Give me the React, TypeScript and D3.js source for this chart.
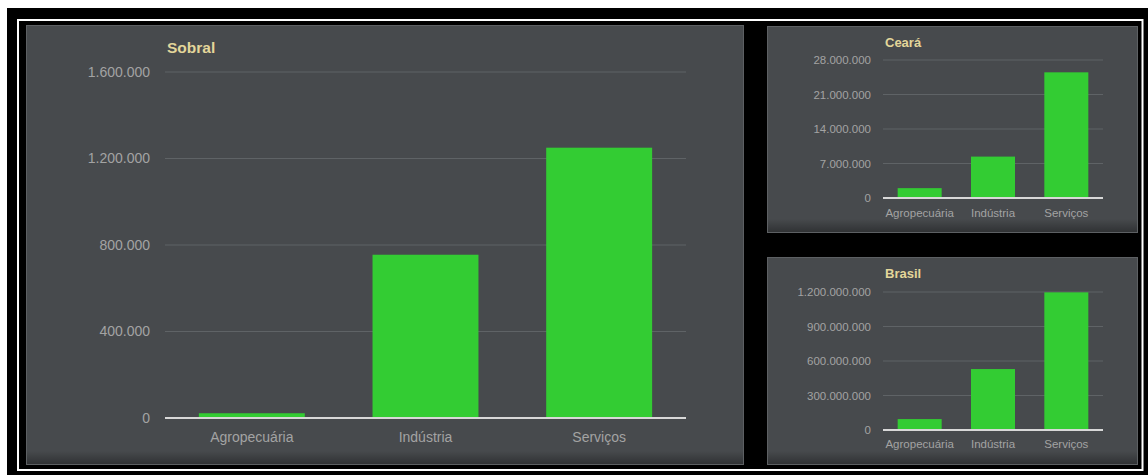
import React from "react";
import * as d3 from "d3";

const categories = ["Agropecuária", "Indústria", "Serviços"];
const sobralValues = [22000, 755000, 1250000];
const cearaValues = [2000000, 8400000, 25500000];
const brasilValues = [95000000, 530000000, 1197000000];
const sobralTicks = [0, 400000, 800000, 1200000, 1600000];
const cearaTicks = [0, 7000000, 14000000, 21000000, 28000000];
const brasilTicks = [0, 300000000, 600000000, 900000000, 1200000000];

const ptLocale = d3.formatLocale({ decimal: ",", thousands: ".", grouping: [3], currency: ["R$", ""] });
const fmt = ptLocale.format(",d");

const FONT = "'Liberation Sans', Arial, Helvetica, sans-serif";
const PANEL = "#474a4d";
const GRID = "#5f6366";
const LABEL = "#a3a3a3";
const TITLE = "#e3d69a";
const GREEN = "#33cc33";

type ChartProps = {
  id: string;
  title: string;
  values: number[];
  ticks: number[];
  panel: { x: number; y: number; w: number; h: number };
  plot: { x0: number; x1: number; y0: number; y1: number };
  titleY: number;
  titleSize: number;
  ySize: number;
  xSize: number;
  xLabelY: number;
  labelGap: number;
  padding: number;
};

function Chart(p: ChartProps) {
  const x = d3.scaleBand<string>().domain(categories).range([p.plot.x0, p.plot.x1]).paddingInner(p.padding).paddingOuter(p.padding / 2);
  const y = d3.scaleLinear().domain([0, p.ticks[p.ticks.length - 1]]).range([p.plot.y1, p.plot.y0]);
  const { x: px, y: py, w, h } = p.panel;
  return (
    <g>
      <rect x={px} y={py} width={w} height={h} fill={PANEL} />
      <rect x={px} y={py + h - 14} width={w} height={14} fill={`url(#shade-${p.id})`} />
      <rect x={px + 0.5} y={py + 0.5} width={w - 1} height={h - 1} fill="none" stroke="#5d6063" strokeWidth={1} />
      <defs>
        <linearGradient id={`shade-${p.id}`} x1="0" y1="0" x2="0" y2="1">
          <stop offset="0" stopColor="#000" stopOpacity={0} />
          <stop offset="1" stopColor="#000" stopOpacity={0.35} />
        </linearGradient>
      </defs>
      <text x={p.plot.x0 + 2} y={p.titleY} fill={TITLE} fontFamily={FONT} fontWeight="bold" fontSize={p.titleSize}>
        {p.title}
      </text>
      {p.ticks.map((t) => (
        <g key={t}>
          {t !== 0 && <line x1={p.plot.x0} x2={p.plot.x1} y1={y(t)} y2={y(t)} stroke={GRID} strokeWidth={1} />}
          <text x={p.plot.x0 - p.labelGap} y={y(t)} dy="0.35em" textAnchor="end" fill={LABEL} fontFamily={FONT} fontSize={p.ySize}>
            {fmt(t)}
          </text>
        </g>
      ))}
      {categories.map((c, i) => (
        <rect key={c} x={x(c)} y={y(p.values[i])} width={x.bandwidth()} height={y(0) - y(p.values[i])} fill={GREEN} />
      ))}
      <line x1={p.plot.x0} x2={p.plot.x1} y1={y(0)} y2={y(0)} stroke="#d8d8d8" strokeWidth={2} />
      {categories.map((c) => (
        <text key={c} x={(x(c) as number) + x.bandwidth() / 2} y={p.xLabelY} textAnchor="middle" fill={LABEL} fontFamily={FONT} fontSize={p.xSize}>
          {c}
        </text>
      ))}
    </g>
  );
}

export default function App() {
  return (
    <svg width={1148} height={475} style={{ position: "absolute", left: 0, top: 0 }}>
      <rect x={0} y={0} width={1148} height={475} fill="#fff" />
      <rect x={7} y={8} width={1141} height={467} fill="#000" />
      <rect x={18} y={20} width={1124.5} height={450} fill="none" stroke="#fff" strokeWidth={2} />
      <Chart
        id="sobral"
        title="Sobral"
        values={sobralValues}
        ticks={sobralTicks}
        panel={{ x: 26, y: 25, w: 718, h: 440 }}
        plot={{ x0: 165, x1: 686, y0: 72, y1: 418 }}
        titleY={53}
        titleSize={15.5}
        ySize={14}
        xSize={14}
        xLabelY={442}
        labelGap={15}
        padding={0.39}
      />
      <Chart
        id="ceara"
        title="Ceará"
        values={cearaValues}
        ticks={cearaTicks}
        panel={{ x: 767, y: 26, w: 371, h: 207 }}
        plot={{ x0: 883, x1: 1103, y0: 60, y1: 198 }}
        titleY={47}
        titleSize={13}
        ySize={11.5}
        xSize={11.5}
        xLabelY={217}
        labelGap={12}
        padding={0.4}
      />
      <Chart
        id="brasil"
        title="Brasil"
        values={brasilValues}
        ticks={brasilTicks}
        panel={{ x: 767, y: 257, w: 371, h: 208 }}
        plot={{ x0: 883, x1: 1103, y0: 292, y1: 430 }}
        titleY={278}
        titleSize={13}
        ySize={11.5}
        xSize={11.5}
        xLabelY={448}
        labelGap={12}
        padding={0.4}
      />
    </svg>
  );
}
